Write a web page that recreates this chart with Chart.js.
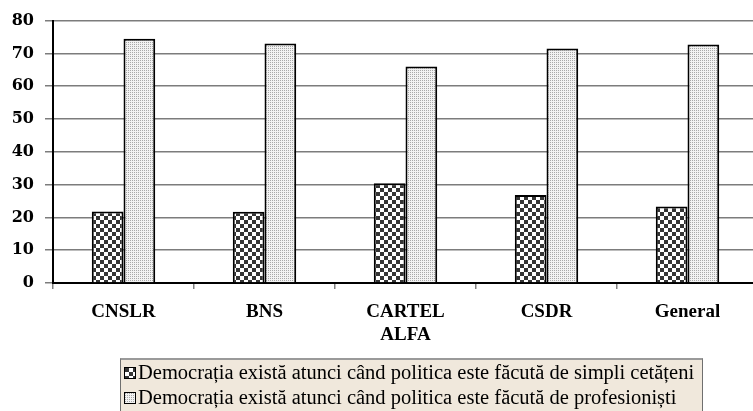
<!DOCTYPE html>
<html>
<head>
<meta charset="utf-8">
<script src="https://cdn.jsdelivr.net/npm/chart.js@4"></script>
<style>
  html, body { margin: 0; padding: 0; background: #fff; }
  #wrap { position: relative; width: 753px; height: 411px; overflow: hidden; }
  #chart { position: absolute; left: 0; top: 0; }
  #legend {
    position: absolute; left: 120px; top: 358px; width: 583px; height: 62px;
    background: #f0e8dc; border: 1px solid #6f6f6f; border-top: 2px solid #9a9a9a; box-sizing: border-box;
    font-family: "Liberation Serif", "Times New Roman", serif; font-size: 20.5px; color: #000;
    padding: 0 0 0 3px;
  }
  .item { display: flex; align-items: center; height: 25px; white-space: nowrap; }
  .item canvas { border: 1px solid #000; margin-right: 2px; }
</style>
</head>
<body>
<div id="wrap">
  <canvas id="chart" width="760" height="343"></canvas>
  <div id="legend"></div>
</div>
<script>
const categories = ['CNSLR', 'BNS', ['CARTEL', 'ALFA'], 'CSDR', 'General'];
const seriesNames = [
  'Democrația există atunci când politica este făcută de simpli cetățeni',
  'Democrația există atunci când politica este făcută de profesioniști',
];
const simpliCetateni = [21.8, 21.7, 30.4, 26.8, 23.3];
const profesionisti = [74.5, 73.0, 66.0, 71.5, 72.7];
const yTicks = [0, 10, 20, 30, 40, 50, 60, 70, 80];

// ─── fill patterns ──────────────────────────────────────────────────────────

function checkerPattern(ctx) {
  const tile = document.createElement('canvas');
  tile.width = 8; tile.height = 8;
  const t = tile.getContext('2d');
  t.fillStyle = '#ffffff';
  t.fillRect(0, 0, 8, 8);
  t.fillStyle = '#353535';
  t.fillRect(0, 0, 4, 4);
  t.fillRect(4, 4, 4, 4);
  return ctx.createPattern(tile, 'repeat');
}

function dottedPattern(ctx) {
  const tile = document.createElement('canvas');
  tile.width = 2; tile.height = 2;
  const t = tile.getContext('2d');
  t.fillStyle = '#f2f2f2';
  t.fillRect(0, 0, 2, 2);
  t.fillStyle = '#a8a8a8';
  t.fillRect(0, 0, 1, 1);
  return ctx.createPattern(tile, 'repeat');
}

const ctx = document.getElementById('chart').getContext('2d');
const fills = [checkerPattern(ctx), dottedPattern(ctx)];

new Chart(ctx, {
  type: 'bar',
  data: {
    labels: categories,
    datasets: [
      { label: seriesNames[0], data: simpliCetateni, backgroundColor: fills[0], borderColor: '#000', borderWidth: 2, borderSkipped: 'bottom' },
      { label: seriesNames[1], data: profesionisti, backgroundColor: fills[1], borderColor: '#000', borderWidth: 2, borderSkipped: 'bottom' },
    ],
  },
  options: {
    responsive: false,
    animation: false,
    categoryPercentage: 0.45,
    barPercentage: 1.0,
    layout: { padding: { left: 0, right: 2, top: 17, bottom: 0 } },
    plugins: { legend: { display: false }, tooltip: { enabled: false } },
    scales: {
      x: {
        afterFit: axis => { axis.height = 60; },
        grid: { drawOnChartArea: false, drawTicks: true, tickLength: 6, color: '#808080', lineWidth: 1.5, offset: true },
        border: { color: '#000', width: 2 },
        ticks: {
          color: '#000', padding: 12, maxRotation: 0,
          font: { family: '"Liberation Serif", "Times New Roman", serif', weight: 'bold', size: 19 },
        },
      },
      y: {
        min: 0, max: 80,
        afterBuildTicks: axis => { axis.ticks = yTicks.map(v => ({ value: v })); },
        afterFit: axis => { axis.width = 53; },
        grid: { color: '#7c7c7c', lineWidth: 1.5, tickLength: 8 },
        border: { color: '#000', width: 2 },
        ticks: {
          color: '#000', padding: 11,
          font: { family: '"DejaVu Serif", serif', weight: 'bold', size: 16 },
        },
      },
    },
  },
});

// ─── legend ─────────────────────────────────────────────────────────────────

const legend = document.getElementById('legend');
seriesNames.forEach((name, i) => {
  const row = document.createElement('div');
  row.className = 'item';
  const sw = document.createElement('canvas');
  sw.width = 10; sw.height = 10;
  const sctx = sw.getContext('2d');
  sctx.fillStyle = i === 0 ? checkerPattern(sctx) : dottedPattern(sctx);
  sctx.fillRect(0, 0, 10, 10);
  row.appendChild(sw);
  const span = document.createElement('span');
  span.textContent = name;
  row.appendChild(span);
  legend.appendChild(row);
});
</script>
</body>
</html>
